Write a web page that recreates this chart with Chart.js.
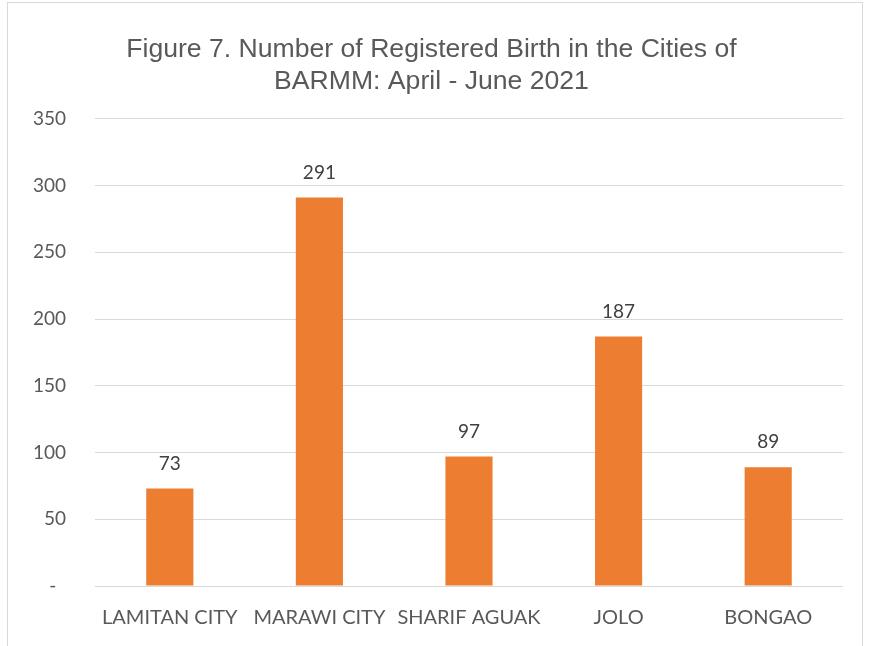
<!DOCTYPE html>
<html>
<head>
<meta charset="utf-8">
<script src="https://cdn.jsdelivr.net/npm/chart.js@4"></script>
<style>
  body { margin: 0; background: #fff; overflow: hidden; }
  #frame { position: absolute; left: 7px; top: 2px; width: 854px; height: 700px; border: 1px solid #d9d9d9; }
  #wrap { position: absolute; left: 0; top: 0; width: 872px; height: 646px; }
</style>
</head>
<body>
<div id="frame"></div>
<div id="wrap"><canvas id="birthChart" width="872" height="646"></canvas></div>
<script>
// data
var cities = ['LAMITAN CITY', 'MARAWI CITY', 'SHARIF AGUAK', 'JOLO', 'BONGAO'];
var births = [73, 291, 97, 187, 89];
var yTicks = [0, 50, 100, 150, 200, 250, 300, 350];

var valueLabels = {
    id: 'valueLabels',
    afterDatasetsDraw: function(chart) {
        var ctx = chart.ctx;
        var meta = chart.getDatasetMeta(0);
        ctx.save();
        ctx.font = '19px Lato, "Open Sans", sans-serif';
        ctx.fillStyle = '#404040';
        ctx.textAlign = 'center';
        ctx.textBaseline = 'middle';
        meta.data.forEach(function(bar, i) {
            ctx.fillText(births[i], bar.x, bar.y - 25);
        });
        ctx.restore();
    }
};

var ctx = document.getElementById('birthChart').getContext('2d');
var chart = new Chart(ctx, {
    type: 'bar',
    data: {
        labels: cities,
        datasets: [{
            data: births,
            backgroundColor: '#ED7D31',
            categoryPercentage: 1,
            barPercentage: 0.315
        }]
    },
    options: {
        responsive: false,
        animation: false,
        layout: { padding: { left: 20, right: 29, top: 34, bottom: 0 } },
        plugins: {
            legend: { display: false },
            tooltip: { enabled: false },
            title: {
                display: true,
                text: ['Figure 7. Number of Registered Birth in the Cities of', 'BARMM: April - June 2021'],
                color: '#595959',
                font: { family: '"Liberation Sans", Arial, sans-serif', size: 26.6, weight: 'normal', lineHeight: 1.2 },
                padding: { top: 0, bottom: 21 }
            }
        },
        scales: {
            x: {
                grid: { display: false, drawTicks: false },
                border: { display: false },
                ticks: {
                    color: '#595959',
                    font: { family: 'Lato, "Open Sans", sans-serif', size: 20 },
                    padding: 20,
                    maxRotation: 0,
                    autoSkip: false
                },
                afterFit: function(axis) { axis.height = 60; }
            },
            y: {
                min: 0,
                max: 350,
                grid: { color: '#d9d9d9', drawTicks: false },
                border: { display: false },
                afterBuildTicks: function(axis) {
                    axis.ticks = yTicks.map(function(v) { return { value: v }; });
                },
                ticks: {
                    color: '#595959',
                    font: { family: 'Lato, "Open Sans", sans-serif', size: 19 },
                    padding: 29,
                    callback: function(v) { return v === 0 ? '-  ' : v; }
                },
                afterFit: function(axis) { axis.width = 75; }
            }
        }
    },
    plugins: [valueLabels]
});
</script>
</body>
</html>
